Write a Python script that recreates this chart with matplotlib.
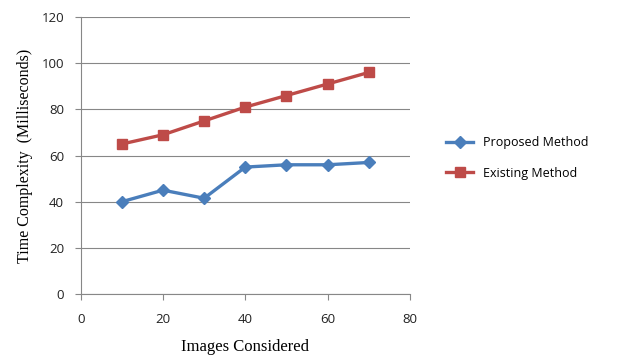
import matplotlib.pyplot as plt

# data
images = [10, 20, 30, 40, 50, 60, 70]
proposed = [40, 45, 41.5, 55, 56, 56, 57]
existing = [65, 69, 75, 81, 86, 91, 96]

fig = plt.figure(figsize=(6.21, 3.63), dpi=100)
ax = fig.add_axes([0.130, 0.190, 0.530, 0.763])

ax.plot(images, proposed, color='#4A7EBB', lw=2.4, marker='D', ms=6.5,
        label='Proposed Method')
ax.plot(images, existing, color='#BE4B48', lw=2.4, marker='s', ms=7.5,
        label='Existing Method')

ax.set_xlim(0, 80)
ax.set_ylim(0, 120)
ax.set_xticks(range(0, 81, 20))
ax.set_yticks(range(0, 121, 20))
ax.grid(axis='y', color='#878787', lw=0.8)
ax.set_axisbelow(True)

for s in ['top', 'right']:
    ax.spines[s].set_visible(False)
for s in ['left', 'bottom']:
    ax.spines[s].set_color('#878787')
ax.tick_params(axis='x', length=4, color='#878787', pad=10,
               labelsize=9.5, labelcolor='#222222')
ax.tick_params(axis='y', length=4, color='#878787', pad=8,
               labelsize=9.5, labelcolor='#222222')
for lab in ax.get_xticklabels() + ax.get_yticklabels():
    lab.set_family('Open Sans')

ax.set_xlabel('Images Considered', family='Liberation Serif', fontsize=12,
              labelpad=9)
ax.set_ylabel('Time Complexity  (Milliseconds)', family='Liberation Serif',
              fontsize=11.5, labelpad=6)

fig.legend(loc='center left', bbox_to_anchor=(0.70, 0.565), frameon=False,
           prop={'family': 'Open Sans', 'size': 9}, handlelength=2.2,
           labelspacing=1.4)

fig.savefig('out.png', dpi=100)
